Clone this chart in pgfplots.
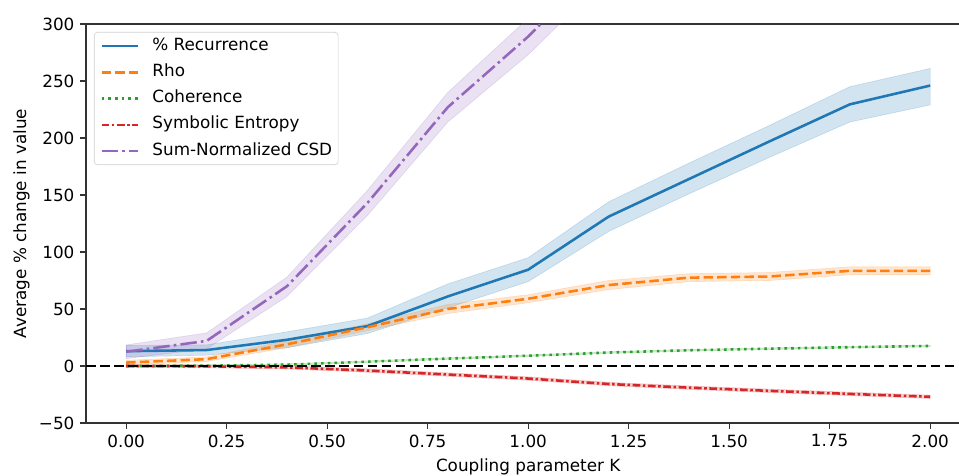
\documentclass[border=0pt]{standalone}
\usepackage{fontspec}
\setmainfont{DejaVu Sans}
\usepackage{pgfplots}
\usepackage{pgfplotstable}
\pgfplotsset{compat=1.18}
\usepgfplotslibrary{fillbetween}

\definecolor{tabblue}{HTML}{1F77B4}
\definecolor{taborange}{HTML}{FF7F0E}
\definecolor{tabgreen}{HTML}{2CA02C}
\definecolor{tabred}{HTML}{D62728}
\definecolor{tabpurple}{HTML}{9467BD}

\newlength\px
\setlength\px{0.625pt}
\newcommand\lbl{\fontsize{10.5}{12.6}\selectfont}

% mean and band (lo/hi)
\pgfplotstableread{
x    mean  lo    hi
0.0  13.0  8.0   18.0
0.2  14.0  9.5   18.5
0.4  23.0  16.0  30.0
0.6  35.0  28.5  42.0
0.8  61.0  51.0  72.0
1.0  84.5  74.0  95.0
1.2  131.0 118.0 144.0
1.4  164.0 151.0 178.0
1.6  197.0 183.0 211.0
1.8  229.5 214.0 245.0
2.0  246.0 229.0 261.0
}\recur
\pgfplotstableread{
x    mean  lo    hi
0.0  3.0   1.0   5.0
0.2  6.0   4.0   8.0
0.4  19.0  16.0  22.0
0.6  34.0  31.0  37.0
0.8  50.0  46.0  54.0
1.0  59.0  55.5  62.5
1.2  71.0  67.0  75.0
1.4  77.5  74.0  81.0
1.6  78.5  75.0  82.0
1.8  83.5  80.0  87.0
2.0  83.5  80.0  87.0
}\rho
\pgfplotstableread{
x    mean  lo    hi
0.0  0.0   -0.6  0.6
0.2  0.3   -0.4  1.0
0.4  1.2   0.5   1.9
0.6  3.8   3.1   4.5
0.8  6.5   5.8   7.2
1.0  9.0   8.3   9.7
1.2  11.8  11.1  12.5
1.4  13.8  13.1  14.5
1.6  15.2  14.5  15.9
1.8  16.5  15.8  17.2
2.0  17.6  16.9  18.3
}\coher
\pgfplotstableread{
x    mean   lo     hi
0.0  0.0    -1.2   1.2
0.2  -0.3   -1.6   1.0
0.4  -1.2   -2.6   0.2
0.6  -4.0   -5.5   -2.5
0.8  -7.5   -9.0   -6.0
1.0  -11.0  -12.5  -9.5
1.2  -15.8  -17.3  -14.3
1.4  -19.0  -20.5  -17.5
1.6  -21.8  -23.3  -20.3
1.8  -24.5  -26.0  -23.0
2.0  -27.0  -28.5  -25.5
}\symb
\pgfplotstableread{
x    mean  lo    hi
0.0  12.5  6.5   18.5
0.2  22.0  15.0  29.0
0.4  70.0  61.0  78.0
0.6  143.0 132.0 154.0
0.8  227.0 214.0 240.0
1.0  289.0 273.0 305.0
1.2  360.0 342.0 378.0
}\csd

\newcommand\band[3]{%
  \addplot[name path=#1hi, draw=none, forget plot] table[x=x,y=hi]{#2};
  \addplot[name path=#1lo, draw=none, forget plot] table[x=x,y=lo]{#2};
  \addplot[fill=#3, fill opacity=0.2, draw=#3, draw opacity=0.2, forget plot]
    fill between[of=#1hi and #1lo];
}

\begin{document}
\begin{tikzpicture}
\begin{axis}[
  scale only axis,
  width=884.4\px,
  height=399\px,
  xmin=-0.1, xmax=2.1,
  ymin=-50, ymax=300,
  xtick={0,0.25,...,2.0},
  xticklabel={\pgfmathprintnumber[fixed,fixed zerofill,precision=2]{\tick}},
  ytick={-50,0,50,100,150,200,250,300},
  yticklabels={−50,0,50,100,150,200,250,300},
  /pgf/number format/assume math mode=true,
  tick label style={font=\lbl},
  label style={font=\lbl},
  tick align=outside,
  tick pos=left,
  major tick length=3.7pt,
  every tick/.style={black!80, line width=0.8pt},
  axis line style={black!80, line width=0.8pt},
  xlabel={Coupling parameter K},
  ylabel={Average \% change in value},
  ylabel style={yshift=-1pt},
  legend style={at={(axis description cs:0.009,0.98)}, anchor=north west,
    draw=black!18, rounded corners=2pt, fill=white, fill opacity=0.8,
    text opacity=1, font=\lbl, inner xsep=3.75pt, inner ysep=3.6pt,
    row sep=6.4pt, column sep=8pt,
    nodes={inner sep=0pt, text height=0.75em, text depth=0.25em}},
  legend cell align=left,
  legend image code/.code={\draw[#1] (0pt,0pt) -- (23pt,0pt);},
]
\band{a}{\recur}{tabblue}
\addplot[tabblue, line width=1.6pt] table[x=x,y=mean]{\recur};
\addlegendentry{\% Recurrence}
\band{b}{\rho}{taborange}
\addplot[taborange, line width=1.6pt, dash pattern=on 5.9pt off 2.6pt] table[x=x,y=mean]{\rho};
\addlegendentry{Rho}
\band{c}{\coher}{tabgreen}
\addplot[tabgreen, line width=1.6pt, dash pattern=on 1.6pt off 2.6pt] table[x=x,y=mean]{\coher};
\addlegendentry{Coherence}
\band{d}{\symb}{tabred}
\addplot[tabred, line width=1.6pt, dash pattern=on 4.8pt off 1.6pt on 1.6pt off 1.6pt] table[x=x,y=mean]{\symb};
\addlegendentry{Symbolic Entropy}
\band{e}{\csd}{tabpurple}
\addplot[tabpurple, line width=1.6pt, dash pattern=on 10.3pt off 2.6pt on 1.6pt off 2.6pt] table[x=x,y=mean]{\csd};
\addlegendentry{Sum-Normalized CSD}
\addplot[black, line width=1.6pt, dash pattern=on 6pt off 2.8pt, forget plot] coordinates {(-0.1,0) (2.1,0)};
\coordinate (bl) at (rel axis cs:0,0);
\end{axis}
\pgfresetboundingbox
\path[use as bounding box] ([shift={(-86\px,-53\px)}]bl) rectangle ([shift={(873\px,423\px)}]bl);
\end{tikzpicture}
\end{document}
